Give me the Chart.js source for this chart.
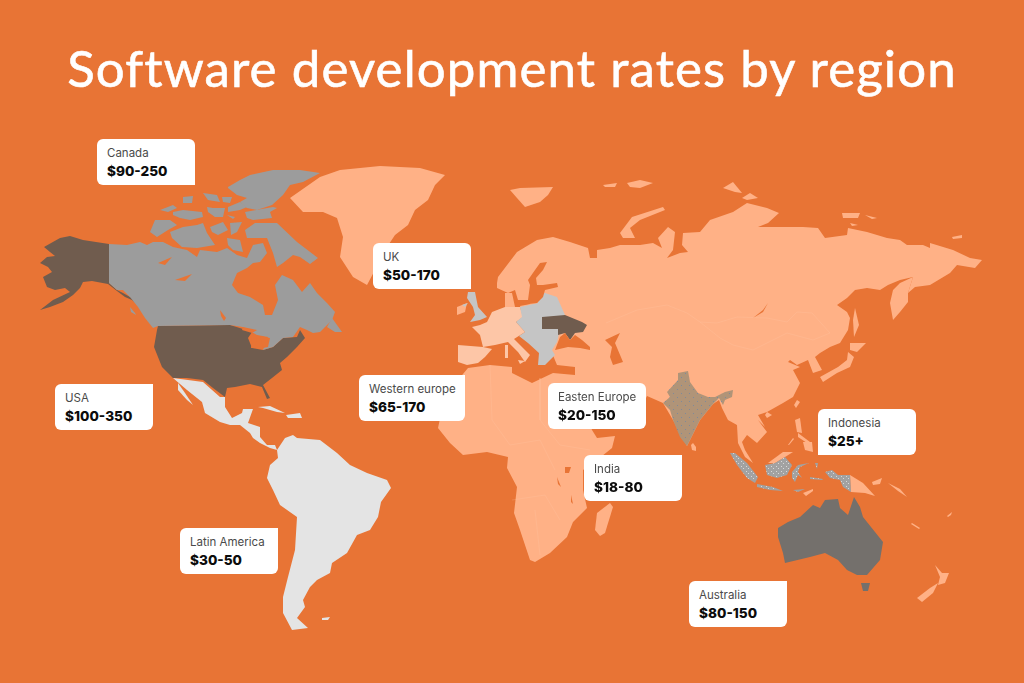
<!DOCTYPE html>
<html><head><meta charset="utf-8">
<script src="https://cdn.jsdelivr.net/npm/chart.js@4"></script>
<style>
html,body{margin:0;padding:0;background:#e87435;width:1024px;height:683px;overflow:hidden}
#wrap{position:relative;width:1024px;height:683px}
canvas{position:absolute;left:0;top:0}
h1{position:absolute;left:0;right:0;top:30px;margin:0;text-align:center;color:#fff;font:400 51px/76px Lato,sans-serif;letter-spacing:1.1px;white-space:nowrap;-webkit-text-stroke:.6px #fff}
.card{position:absolute;background:#fff;box-sizing:border-box;font-family:Inter,"Noto Sans",sans-serif;white-space:nowrap}
.card .n{position:absolute;left:10px;top:7px;font-size:11.5px;line-height:15px;color:#4a4a4a}
.card .v{position:absolute;left:10px;top:22px;font-size:13.6px;line-height:20px;font-weight:800;color:#0c0c0c}
</style></head><body>
<div id="wrap"><canvas id="c" width="1024" height="683"></canvas><h1 id="t"></h1></div>
<script>
const titleText="Software development rates by region";
const labelNames=["Canada","UK","USA","Western europe","Easten Europe","India","Indonesia","Latin America","Australia"];
const labelValues=["$90-250","$50-170","$100-350","$65-170","$20-150","$18-80","$25+","$30-50","$80-150"];
const labelX=[97,373,55,359,548,584,818,180,689];
const labelY=[139,243,384,375,383,455,409,528,581];
const labelCorners=["6px 6px 0 6px","6px 6px 0 6px","6px 0 6px 6px","6px 0 6px 6px","6px","6px 0 6px 6px","6px 6px 6px 0","6px 0 6px 6px","6px 0 6px 6px"];

const alaska=[[70,236],[83,240],[109,244],[109,283],[117,290],[123,293],[130,297],[138,302],[138,305],[132,300],[125,297],[117,291],[108,284],[92,281],[83,282],[80,288],[73,295],[63,302],[50,307],[40,310],[53,300],[70,292],[65,288],[55,290],[47,287],[43,277],[52,272],[48,267],[40,263],[47,257],[55,256],[50,252],[44,247],[60,238]];
const canadaMain=[[109,244],[127,245],[140,242],[147,245],[153,242],[163,242],[173,247],[187,250],[197,257],[200,250],[217,252],[227,248],[237,255],[247,258],[253,245],[263,243],[267,253],[260,262],[253,263],[247,268],[237,273],[232,285],[238,293],[250,297],[263,305],[265,315],[272,315],[278,300],[275,285],[282,275],[293,280],[302,292],[310,283],[317,293],[327,303],[335,312],[332,320],[325,327],[320,332],[313,333],[307,330],[300,327],[293,337],[283,338],[273,347],[263,350],[268,337],[257,335],[243,327],[230,325],[158,326],[153,328],[145,318],[138,307],[130,297],[123,290],[117,290],[109,283]];
const baffin=[[245,230],[255,223],[277,223],[297,242],[318,258],[310,264],[300,257],[293,255],[283,263],[277,267],[273,253],[267,238],[255,238],[247,238]];
const banks=[[150,232],[155,220],[170,220],[177,225],[168,230],[157,237]];
const victoria=[[170,232],[183,227],[197,225],[203,223],[207,233],[215,245],[197,248],[182,247],[172,238]];
const canIsle1=[[210,227],[223,222],[228,230],[218,235],[212,232]];
const canIsle2=[[230,223],[242,222],[237,232],[231,235]];
const canIsle3=[[227,238],[240,240],[243,252],[233,250],[228,245]];
const canIsle4=[[160,210],[173,205],[177,208],[168,212]];
const canIsle5=[[173,212],[183,210],[202,212],[203,217],[190,220],[180,218],[173,215]];
const canIsle6=[[183,197],[193,196],[192,203],[183,203]];
const canIsle7=[[203,193],[217,195],[220,202],[208,200]];
const canIsle8=[[207,207],[213,208],[225,208],[223,217],[215,217],[208,212]];
const canIsle9=[[245,212],[273,207],[277,208],[270,212],[272,218],[253,220],[247,218]];
const canIsle10=[[222,197],[232,197],[230,203],[223,202]];
const canIsle11=[[228,207],[240,202],[247,207],[240,210],[228,212]];
const canIsle12=[[227,215],[235,217],[233,219]];
const ellesmere=[[228,187],[240,180],[250,175],[273,170],[300,170],[320,173],[303,182],[290,185],[283,195],[272,205],[257,210],[247,208],[240,202],[247,198],[237,195],[228,188]];
const newfoundland=[[327,327],[332,318],[342,332],[335,332]];
const vancouver=[[130,307],[135,313],[136,315],[131,312]];
const usaMain=[[158,326],[230,325],[243,329],[252,332],[248,338],[252,348],[263,350],[273,347],[283,338],[297,337],[300,330],[305,338],[297,347],[287,357],[280,363],[282,370],[272,378],[263,385],[270,398],[267,399],[262,387],[250,384],[235,387],[227,388],[225,397],[213,388],[203,380],[187,378],[173,378],[162,367],[154,347],[157,330]];
const mexico=[[173,378],[188,380],[203,382],[220,397],[225,397],[225,407],[232,418],[242,413],[243,409],[253,409],[248,423],[260,427],[260,437],[267,445],[275,445],[277,450],[270,448],[260,443],[253,438],[250,433],[240,425],[230,425],[220,422],[205,413],[202,402],[187,390]];
const baja=[[178,383],[185,393],[193,405],[187,400],[178,390]];
const cuba=[[258,407],[270,406],[285,413],[277,412],[263,408]];
const hispaniola=[[286,415],[300,413],[302,418],[288,418]];
const southAmerica=[[277,450],[285,438],[293,435],[297,438],[320,440],[337,453],[350,465],[367,473],[387,480],[391,488],[381,502],[378,517],[370,530],[357,535],[347,553],[332,563],[330,573],[317,580],[310,587],[303,600],[305,607],[297,618],[308,628],[292,630],[283,613],[283,597],[288,577],[295,550],[297,517],[280,505],[273,490],[267,478],[270,465],[278,458]];
const falklands=[[322,618],[330,617],[328,620],[322,620]];
const greenland=[[290,198],[320,177],[340,170],[380,166],[420,168],[445,175],[435,185],[428,200],[415,210],[408,225],[395,235],[385,250],[375,270],[367,285],[353,277],[340,257],[343,237],[337,218],[323,212],[303,212]];
const eurasia=[[497,283],[498,277],[517,252],[537,240],[553,237],[570,242],[588,248],[590,258],[580,268],[573,265],[577,260],[568,257],[597,258],[597,250],[610,248],[620,245],[640,245],[653,243],[662,248],[658,238],[668,227],[675,232],[673,250],[667,258],[680,253],[688,252],[682,245],[683,233],[700,232],[710,220],[733,212],[747,203],[767,208],[779,213],[768,223],[758,227],[783,227],[803,227],[818,228],[825,238],[847,235],[848,228],[867,232],[887,238],[900,240],[907,245],[923,245],[930,248],[930,243],[953,250],[970,258],[982,260],[975,268],[957,265],[950,273],[930,285],[915,287],[908,293],[913,277],[900,280],[888,285],[880,290],[867,288],[855,290],[847,298],[837,305],[847,312],[850,318],[848,330],[840,343],[830,347],[820,353],[815,357],[822,370],[813,373],[808,360],[797,365],[790,360],[788,362],[800,367],[793,370],[800,383],[793,397],[783,403],[767,412],[758,415],[765,427],[758,420],[767,432],[757,443],[747,435],[742,442],[745,450],[753,463],[745,457],[738,443],[737,425],[728,420],[722,408],[719,400],[713,404],[700,420],[687,446],[673,420],[663,403],[647,396],[640,410],[600,425],[575,385],[575,367],[557,365],[552,353],[545,349],[540,345],[525,330],[520,306],[530,304],[528,300],[518,300],[515,290],[508,293],[497,288]];
const kamchatka=[[913,277],[908,293],[908,302],[900,312],[893,320],[890,303],[893,290],[900,283]];
const denmark=[[505,293],[512,293],[515,307],[505,307]];
const svalbard=[[510,190],[520,188],[553,187],[548,195],[540,202],[525,207],[517,198]];
const novayaZemlya=[[620,233],[632,217],[663,207],[665,210],[640,220],[630,228],[635,238],[623,238]];
const franzJosef1=[[603,185],[617,183],[615,187],[605,187]];
const franzJosef2=[[627,183],[640,180],[653,183],[640,188],[630,187]];
const severnaya1=[[723,188],[733,182],[742,193],[735,192]];
const severnaya2=[[742,198],[750,193],[758,198],[747,200]];
const newSiberian1=[[842,213],[860,213],[858,218],[843,218]];
const newSiberian2=[[865,215],[877,218],[872,219]];
const newSiberian3=[[850,223],[858,225],[852,226]];
const wrangel=[[952,237],[962,235],[962,238],[953,239]];
const sakhalin=[[855,308],[859,325],[854,337],[853,320]];
const hokkaido=[[850,343],[866,343],[857,352],[850,350]];
const honshu=[[848,352],[854,357],[850,367],[837,373],[823,382],[820,377],[838,367],[847,360]];
const taiwan=[[797,400],[800,402],[796,408],[794,405]];
const hainan=[[767,412],[772,415],[767,418],[765,415]];
const luzon=[[795,420],[800,418],[802,433],[797,432]];
const visayas=[[798,433],[810,442],[807,443],[798,437]];
const mindanao=[[803,442],[812,442],[813,452],[805,450]];
const palawan=[[788,445],[793,438],[794,439],[789,445]];
const sriLanka=[[693,443],[696,447],[696,451],[692,450],[691,445]];
const africa=[[468,368],[490,365],[512,367],[512,373],[532,383],[553,373],[575,375],[580,400],[592,430],[597,438],[615,436],[612,448],[597,460],[583,470],[583,490],[587,508],[573,522],[567,537],[550,553],[535,562],[530,560],[520,530],[514,513],[517,487],[507,468],[508,457],[487,452],[463,455],[450,443],[438,428],[445,395],[458,380]];
const madagascar=[[610,503],[613,507],[605,533],[600,536],[595,530],[597,513]];
const malaysiaBorneo=[[768,463],[783,452],[793,452],[785,457],[775,463]];
const png=[[850,475],[863,483],[875,496],[865,493],[851,492]];
const newBritain=[[872,482],[882,478],[880,484],[873,485]];
const solomons=[[888,483],[900,489],[907,497],[898,491]];
const timor=[[803,493],[813,489],[813,491],[806,496]];
const nzNorth=[[935,565],[942,573],[949,573],[945,583],[938,585],[940,577]];
const nzSouth=[[938,583],[933,593],[922,602],[917,598],[930,588]];
const newCaledonia=[[912,523],[920,528],[919,529],[911,524]];
const vanuatu=[[947,516],[952,512],[951,515],[948,517]];
const ireland=[[457,307],[467,303],[465,312],[457,315]];
const spain=[[458,345],[483,347],[492,349],[485,357],[478,363],[467,365],[458,362]];
const westEurope=[[472,327],[480,325],[487,322],[492,312],[505,307],[520,307],[523,317],[516,322],[525,332],[514,339],[530,355],[525,362],[518,352],[508,342],[495,345],[483,347],[480,335]];
const sardinia=[[505,345],[508,345],[508,358],[505,358]];
const sicily=[[518,360],[525,361],[520,364]];
const britain=[[468,292],[475,292],[478,307],[487,317],[480,320],[470,322],[475,315],[473,307],[467,298]];
const northIreland=[[462,305],[468,303],[465,307]];
const eastEurope=[[538,303],[538,295],[545,293],[557,297],[565,315],[560,330],[557,342],[552,350],[555,355],[545,365],[538,365],[539,353],[528,343],[519,336],[525,332],[516,322],[522,317],[520,307]];
const ukraine=[[542,317],[565,315],[582,322],[587,325],[583,332],[575,333],[570,340],[565,333],[558,335],[558,329],[542,329]];
const india=[[678,373],[688,371],[690,382],[698,393],[708,397],[715,397],[725,392],[733,390],[732,397],[725,400],[723,405],[719,398],[713,404],[700,420],[695,430],[690,440],[687,446],[680,437],[673,420],[670,410],[663,403],[670,397],[667,392],[678,380]];
const sumatra=[[730,453],[735,453],[747,463],[758,477],[755,483],[747,478],[737,465]];
const java=[[757,484],[773,487],[783,491],[770,490],[757,487]];
const sunda=[[793,490],[805,489],[798,492]];
const borneo=[[765,465],[775,463],[785,457],[792,465],[787,475],[777,478],[767,475]];
const sulawesi=[[792,472],[798,465],[809,463],[800,467],[798,472],[802,478],[798,475],[795,482],[792,478]];
const maluku=[[815,463],[818,463],[817,469]];
const seram=[[810,477],[823,479],[822,480],[810,479]];
const westPapua=[[825,472],[832,470],[838,475],[850,475],[851,492],[843,487],[840,480],[830,478]];
const australia=[[778,528],[788,522],[800,517],[813,505],[820,508],[825,500],[838,499],[840,508],[848,515],[854,497],[860,507],[863,517],[875,532],[883,542],[880,560],[867,575],[857,575],[847,570],[838,560],[825,553],[810,557],[785,563],[783,553],[778,537]];
const tasmania=[[861,583],[870,583],[868,591],[863,591]];
const blackSea=[[555,350],[560,337],[565,333],[570,340],[575,335],[582,340],[590,347],[590,350],[580,348],[568,347]];
const caspian=[[605,340],[620,333],[615,343],[623,362],[613,365],[610,357],[612,347]];
const baltic=[[547,262],[540,263],[535,270],[528,280],[530,285],[528,300],[520,305],[537,303],[543,297],[545,290],[558,287],[557,283],[543,285],[537,285],[536,278],[543,270]];
const baikal=[[768,303],[763,312],[753,318],[763,310]];
const bearLake=[[158,263],[172,257],[165,265]];
const slaveLake=[[175,280],[192,274],[185,281]];
const winnipeg=[[220,310],[226,318],[224,321],[221,316]];
const superior=[[243,327],[257,330],[252,333],[242,330]];
const michigan=[[252,337],[257,337],[255,348],[251,348]];
const huron=[[260,336],[270,338],[268,347],[263,348]];
const victoriaLake=[[565,467],[571,467],[569,473],[565,473]];
const tanganyika=[[557,477],[561,487],[558,484]];
const malawi=[[571,495],[573,504],[571,502]];
const mongoliaLine=[[700,322],[717,323],[737,317],[767,318],[787,322],[797,312],[812,313],[830,333],[813,340],[787,333],[773,340],[753,350],[733,345],[720,338],[700,322]];
const kazakhLine=[[606,323],[637,310],[667,305],[687,313],[700,322]];
const africaLine1=[[490,365],[492,420],[510,445],[540,440],[555,470]];
const africaLine2=[[540,378],[540,420],[560,445],[590,450]];
const africaLine3=[[535,510],[540,555]];
const africaLine4=[[512,500],[545,495],[560,520]];

const land="#ffb186",west="#fdc6a7",latin="#e4e4e4",can="#9c9c9c",us="#705c4e",east="#c5c5c5",aus="#74706c",sea="#e87435",faint="rgba(255,205,175,.4)";
function dots(base,dot,step){const p=document.createElement("canvas");p.width=p.height=step;const g=p.getContext("2d");g.fillStyle=base;g.fillRect(0,0,step,step);g.fillStyle=dot;g.fillRect(1,1,1,1);g.fillRect(1+(step>>1),1+(step>>1),1,1);return g.createPattern(p,"repeat");}
const indiaFill=dots("#b09478","#7f8a9a",8),indoFill=dots("#a2a2a2","#d8d8d8",5);
const fills=[
 [land,[greenland,eurasia,kamchatka,denmark,svalbard,novayaZemlya,franzJosef1,franzJosef2,severnaya1,severnaya2,newSiberian1,newSiberian2,newSiberian3,wrangel,sakhalin,hokkaido,honshu,taiwan,hainan,luzon,visayas,mindanao,palawan,sriLanka,africa,madagascar,malaysiaBorneo,png,newBritain,solomons,timor,nzNorth,nzSouth,newCaledonia,vanuatu,ireland]],
 [west,[spain,westEurope,sardinia,sicily]],
 [east,[britain,northIreland,eastEurope]],
 [us,[ukraine,alaska,usaMain]],
 [can,[canadaMain,baffin,banks,victoria,canIsle1,canIsle2,canIsle3,canIsle4,canIsle5,canIsle6,canIsle7,canIsle8,canIsle9,canIsle10,canIsle11,canIsle12,ellesmere,newfoundland,vancouver]],
 [latin,[mexico,baja,cuba,hispaniola,southAmerica,falklands]],
 [indiaFill,[india]],
 [indoFill,[sumatra,java,sunda,borneo,sulawesi,maluku,seram,westPapua]],
 [aus,[australia,tasmania]],
 [sea,[blackSea,caspian,baltic,baikal,bearLake,slaveLake,winnipeg,superior,michigan,huron,victoriaLake,tanganyika,malawi]]
];
const lines=[mongoliaLine,kazakhLine,africaLine1,africaLine2,africaLine3,africaLine4];
const pts=a=>a.map(([x,y])=>({x,y}));
const datasets=[];
fills.forEach(([color,shapes])=>shapes.forEach(s=>datasets.push({data:pts(s),showLine:true,fill:"shape",backgroundColor:color,borderWidth:0,borderColor:"transparent",pointRadius:0,tension:0})));
lines.forEach(l=>datasets.push({data:pts(l),showLine:true,fill:false,borderColor:faint,borderWidth:.5,pointRadius:0,tension:0}));
datasets.reverse();
const chart=new Chart(document.getElementById("c"),{type:"scatter",data:{datasets},options:{responsive:false,animation:false,devicePixelRatio:1,layout:{padding:0},
 plugins:{legend:{display:false},tooltip:{enabled:false}},
 scales:{x:{type:"linear",min:0,max:1024,display:false},y:{type:"linear",min:0,max:683,reverse:true,display:false}}}});
document.getElementById("t").textContent=titleText;
const wrap=document.getElementById("wrap");
labelNames.forEach((n,i)=>{const d=document.createElement("div");d.className="card";
 const L=chart.scales.x.getPixelForValue(labelX[i]),T=chart.scales.y.getPixelForValue(labelY[i]);
 d.style.cssText=`left:${L}px;top:${T}px;width:${n==="Western europe"?106:98}px;height:46px;border-radius:${labelCorners[i]}`;
 const a=document.createElement("div");a.className="n";a.textContent=n;const b=document.createElement("div");b.className="v";b.textContent=labelValues[i];d.append(a,b);wrap.append(d);});
</script></body></html>
